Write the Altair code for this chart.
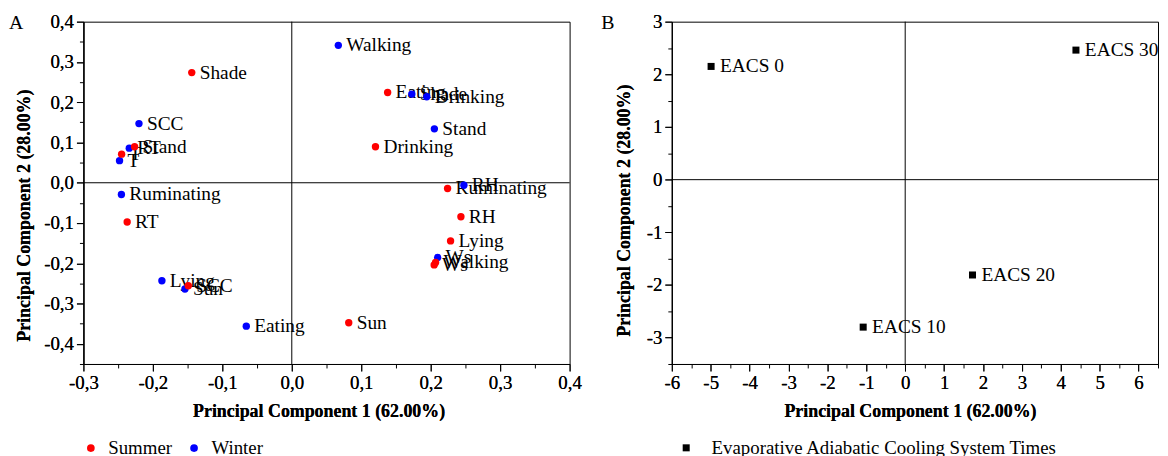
import altair as alt
import pandas as pd

FONT = "Liberation Serif"

# ---------------- Panel A data (PCA loadings) ----------------
variables = ["T", "RH", "Ws", "RT", "SCC", "Shade", "Sun", "Eating",
             "Drinking", "Ruminating", "Lying", "Stand", "Walking"]
summer_pc1 = [-0.245, 0.2435, 0.205, -0.237, -0.149, -0.144, 0.082, 0.138,
              0.1205, 0.2243, 0.2286, -0.2263, 0.207]
summer_pc2 = [0.071, -0.0844, -0.204, -0.0975, -0.2556, 0.2736, -0.3477, 0.224,
              0.0894, -0.0143, -0.1444, 0.0894, -0.198]
winter_pc1 = [-0.248, 0.2478, 0.21, -0.234, -0.22, 0.1728, -0.1538, -0.0655,
              0.1943, -0.2453, -0.187, 0.2053, 0.067]
winter_pc2 = [0.0548, -0.0062, -0.1857, 0.0859, 0.1469, 0.2202, -0.2637, -0.356,
              0.2136, -0.0291, -0.2432, 0.1338, 0.3412]
seasons = ["Summer", "Winter"]
season_colors = ["#FF0000", "#0000FF"]

# ---------------- Panel B data (scores) ----------------
eacs_labels = ["EACS 0", "EACS 10", "EACS 20", "EACS 30"]
eacs_pc1 = [-4.99, -1.08, 1.73, 4.39]
eacs_pc2 = [2.15, -2.80, -1.81, 2.46]
eacs_series = "Evaporative Adiabatic Cooling System Times"

# axis tick values
xa_major = [-0.3, -0.2, -0.1, 0.0, 0.1, 0.2, 0.3, 0.4]
xa_minor = [-0.25, -0.15, -0.05, 0.05, 0.15, 0.25, 0.35]
ya_major = [-0.4, -0.3, -0.2, -0.1, 0.0, 0.1, 0.2, 0.3, 0.4]
ya_minor = [-0.45, -0.35, -0.25, -0.15, -0.05, 0.05, 0.15, 0.25, 0.35]
xb_major = [-6, -5, -4, -3, -2, -1, 0, 1, 2, 3, 4, 5, 6]
xb_minor = [-5.5, -4.5, -3.5, -2.5, -1.5, -0.5, 0.5, 1.5, 2.5, 3.5, 4.5, 5.5, 6.5]
yb_major = [-3, -2, -1, 0, 1, 2, 3]
yb_minor = [-3.5, -2.5, -1.5, -0.5, 0.5, 1.5, 2.5]

rows = []
for s, p1, p2 in (("Winter", winter_pc1, winter_pc2), ("Summer", summer_pc1, summer_pc2)):
    for v, a, b in zip(variables, p1, p2):
        rows.append({"var": v, "season": s, "pc1": a, "pc2": b})
df_a = pd.DataFrame(rows)
df_b = pd.DataFrame({"lab": eacs_labels, "pc1": eacs_pc1, "pc2": eacs_pc2,
                     "series": [eacs_series] * len(eacs_labels)})
zero = pd.DataFrame({"z": [0]})

LAB_A = "(datum.value < -0.001 ? '-' : '') + replace(format(abs(datum.value), '.1f'), '.', ',')"
LAB_B = "(datum.value < 0 ? '-' : '') + format(abs(datum.value), 'd')"


def major_axis(values, lab, title, orient, **kw):
    return alt.Axis(values=values, labelExpr=lab, title=title, grid=False, tickSize=7,
                    labelFlush=False, labelOverlap=False, orient=orient, labelPadding=3,
                    **kw)


def minor_axis(values, orient):
    return alt.Axis(values=values, labels=False, title=None, grid=False, tickSize=4,
                    domain=False, orient=orient)


W, H = 490, 345
WB = 490
TXT = 19.5


def zero_lines(sx, sy):
    v = alt.Chart(zero).mark_rule(color="black", strokeWidth=1).encode(
        x=alt.X("z:Q", scale=sx, axis=None))
    h = alt.Chart(zero).mark_rule(color="black", strokeWidth=1).encode(
        y=alt.Y("z:Q", scale=sy, axis=None))
    return v, h


# ---------------- Panel A ----------------
sxa = alt.Scale(domain=[-0.3, 0.4], nice=False, zero=False)
sya = alt.Scale(domain=[-0.45, 0.4], nice=False, zero=False)
xa = alt.X("pc1:Q", scale=sxa,
           axis=major_axis(xa_major, LAB_A, "Principal Component 1 (62.00%)", "bottom",
                           titleX=237, titleY=48, titleBaseline="middle", titleAlign="center"))
ya = alt.Y("pc2:Q", scale=sya,
           axis=major_axis(ya_major, LAB_A, "Principal Component 2 (28.00%)", "left",
                           titleX=-59, titleY=195, titleBaseline="middle",
                           titleAlign="center", titleAngle=270))

minor_a = alt.Chart(zero).mark_rule(opacity=0).encode(
    x=alt.X("z:Q", scale=sxa, axis=minor_axis(xa_minor, "bottom")),
    y=alt.Y("z:Q", scale=sya, axis=minor_axis(ya_minor, "left")))

base_a = alt.Chart(df_a)
labels_a = base_a.mark_text(align="left", baseline="middle", dx=8, fontSize=TXT,
                            font=FONT, color="black").encode(x=xa, y=ya, text="var:N")
points_a = base_a.mark_circle(size=55, opacity=1).encode(
    x=xa, y=ya,
    color=alt.Color("season:N", scale=alt.Scale(domain=seasons, range=season_colors),
                    legend=alt.Legend(orient="none", legendX=-2, legendY=420,
                                      direction="horizontal", title=None,
                                      labelFont=FONT, labelFontSize=19, labelColor="black",
                                      symbolType="circle", symbolSize=60, symbolOpacity=1,
                                      symbolStrokeWidth=0, labelOffset=8,
                                      columnPadding=12, padding=0, labelLimit=0)))
vline_a, hline_a = zero_lines(sxa, sya)
letter_a = alt.Chart(pd.DataFrame({"t": ["A"]})).mark_text(
    align="left", baseline="middle", fontSize=20, font=FONT, color="black").encode(
    x=alt.value(-75), y=alt.value(1), text="t:N")

panel_a = alt.layer(minor_a, vline_a, hline_a, labels_a, points_a, letter_a).resolve_axis(
    x="independent", y="independent").properties(width=W, height=H)

# ---------------- Panel B ----------------
sxb = alt.Scale(domain=[-6, 6.5], nice=False, zero=False)
syb = alt.Scale(domain=[-3.5, 3], nice=False, zero=False)
xb = alt.X("pc1:Q", scale=sxb,
           axis=major_axis(xb_major, LAB_B, "Principal Component 1 (62.00%)", "bottom",
                           titleX=240, titleY=48, titleBaseline="middle", titleAlign="center"))
yb = alt.Y("pc2:Q", scale=syb,
           axis=major_axis(yb_major, LAB_B, "Principal Component 2 (28.00%)", "left",
                           titleX=-48, titleY=190, titleBaseline="middle",
                           titleAlign="center", titleAngle=270))
minor_b = alt.Chart(zero).mark_rule(opacity=0).encode(
    x=alt.X("z:Q", scale=sxb, axis=minor_axis(xb_minor, "bottom")),
    y=alt.Y("z:Q", scale=syb, axis=minor_axis(yb_minor, "left")))

base_b = alt.Chart(df_b)
labels_b = base_b.mark_text(align="left", baseline="middle", dx=9, fontSize=TXT,
                            font=FONT, color="black").encode(x=xb, y=yb, text="lab:N")
points_b = base_b.mark_square(size=50, opacity=1).encode(
    x=xb, y=yb,
    color=alt.Color("series:N", scale=alt.Scale(domain=[eacs_series], range=["black"]),
                    legend=alt.Legend(orient="none", legendX=5, legendY=420,
                                      direction="horizontal", title=None,
                                      labelFont=FONT, labelFontSize=19, labelColor="black",
                                      symbolType="square", symbolSize=50, symbolOpacity=1,
                                      symbolStrokeWidth=0, labelOffset=16, padding=0,
                                      labelLimit=0)))
vline_b, hline_b = zero_lines(sxb, syb)
letter_b = alt.Chart(pd.DataFrame({"t": ["B"]})).mark_text(
    align="left", baseline="middle", fontSize=20, font=FONT, color="black").encode(
    x=alt.value(-71), y=alt.value(1), text="t:N")

panel_b = alt.layer(minor_b, vline_b, hline_b, labels_b, points_b, letter_b).resolve_axis(
    x="independent", y="independent").properties(width=WB, height=H)

chart = alt.hconcat(panel_a, panel_b, spacing=103, bounds="flush").resolve_scale(
    color="independent").resolve_legend(color="independent").properties(
    padding={"left": 0, "top": 2, "right": 0, "bottom": 0}
).configure(background="white").configure_view(
    stroke="black", strokeWidth=1
).configure_axis(
    labelFont=FONT, titleFont=FONT, labelFontSize=19, titleFontSize=18,
    titleFontWeight="bold", labelColor="black", titleColor="black",
    domainColor="black", tickColor="black", domainWidth=1, tickWidth=1
)

chart.save("out.html", embed_options={"renderer": "svg", "actions": False})
